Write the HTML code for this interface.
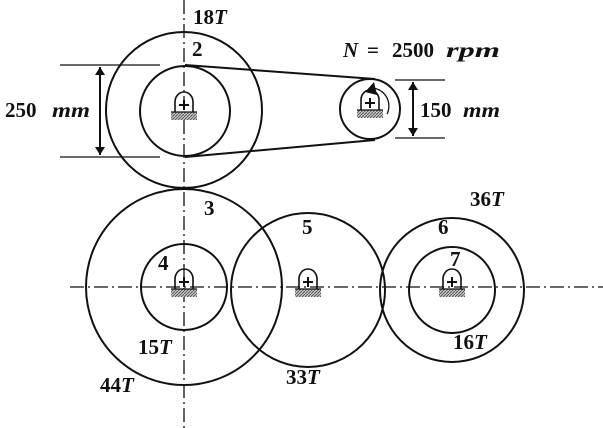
<!DOCTYPE html>
<html><head><style>body{margin:0;background:#fff}svg{display:block}</style></head><body>
<svg width="603" height="428" viewBox="0 0 603 428" xmlns="http://www.w3.org/2000/svg" font-family="Liberation Serif, serif" font-weight="bold">
<defs>
<pattern id="h" width="3" height="3" patternUnits="userSpaceOnUse"><rect width="3" height="3" fill="#ccc"/><path d="M0 3L3 0" stroke="#555" stroke-width="1"/></pattern>
<g id="b"><path d="M-9 4 V-6 A9 10 0 0 1 9 -6 V4" fill="none" stroke="#111" stroke-width="1.6"/><path d="M-5 -3H5M0 -8V2" stroke="#111" stroke-width="2"/><rect x="-13" y="4" width="26" height="8" fill="url(#h)"/><line x1="-13" y1="4" x2="13" y2="4" stroke="#111" stroke-width="1.2"/></g>
<marker id="a" markerWidth="8" markerHeight="10" refX="8" refY="5" orient="auto-start-reverse" markerUnits="userSpaceOnUse"><path d="M0 0L8 5L0 10z" fill="#111"/></marker>
</defs>
<g stroke="#111" stroke-width="1.3" stroke-dasharray="14 4 2 4" fill="none">
<line x1="184" y1="0" x2="184" y2="428"/>
<line x1="70" y1="287" x2="603" y2="287"/>
</g>
<g stroke="#111" stroke-width="2" fill="none">
<circle cx="184" cy="110" r="78"/>
<circle cx="185" cy="111" r="45"/>
<circle cx="370" cy="109" r="30"/>
<line x1="185" y1="65" x2="375" y2="79"/>
<line x1="185" y1="157" x2="375" y2="140"/>
<circle cx="184" cy="287" r="98"/>
<circle cx="184" cy="287" r="43"/>
<circle cx="308" cy="290" r="77"/>
<circle cx="452" cy="290" r="72"/>
<circle cx="452" cy="290" r="43"/>
<path d="M387 114 A18 18 0 0 0 372 88" stroke-width="1.3"/>
</g>
<path d="M365 92 L374 82 L377 95 z" fill="#111"/>
<use href="#b" x="184" y="108"/>
<use href="#b" x="370" y="106"/>
<use href="#b" x="184" y="285"/>
<use href="#b" x="308" y="285"/>
<use href="#b" x="452" y="285"/>
<g stroke="#111" stroke-width="1.3">
<line x1="60" y1="65" x2="160" y2="65"/><line x1="60" y1="157" x2="160" y2="157"/>
<line x1="395" y1="80" x2="445" y2="80"/><line x1="395" y1="138" x2="445" y2="138"/>
</g>
<g stroke="#111" stroke-width="2">
<line x1="100" y1="67" x2="100" y2="155" marker-start="url(#a)" marker-end="url(#a)"/>
<line x1="413" y1="82" x2="413" y2="136" marker-start="url(#a)" marker-end="url(#a)"/>
</g>
<g font-size="21" fill="#111">
<text x="193" y="24">18<tspan font-style="italic">T</tspan></text>
<text x="192" y="56">2</text>
<text x="343" y="57" font-style="italic">N</text>
<text x="367" y="57">=</text>
<text x="392" y="57">2500</text>
<text x="446" y="57" font-style="italic" textLength="54" lengthAdjust="spacingAndGlyphs">rpm</text>
<text x="5" y="117">250</text>
<text x="52" y="117" font-style="italic" textLength="38" lengthAdjust="spacingAndGlyphs">mm</text>
<text x="420" y="117">150</text>
<text x="463" y="117" font-style="italic" textLength="37" lengthAdjust="spacingAndGlyphs">mm</text>
<text x="470" y="206">36<tspan font-style="italic">T</tspan></text>
<text x="204" y="215">3</text>
<text x="302" y="234">5</text>
<text x="438" y="234">6</text>
<text x="158" y="270">4</text>
<text x="450" y="266">7</text>
<text x="138" y="354">15<tspan font-style="italic">T</tspan></text>
<text x="453" y="349">16<tspan font-style="italic">T</tspan></text>
<text x="100" y="392">44<tspan font-style="italic">T</tspan></text>
<text x="286" y="384">33<tspan font-style="italic">T</tspan></text>
</g>
</svg>
</body></html>
